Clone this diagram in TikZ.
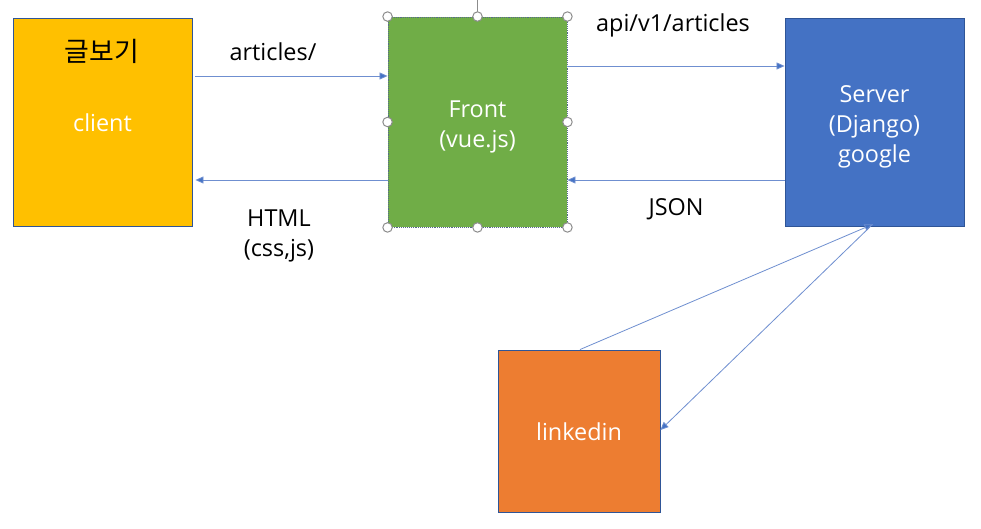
\documentclass[tikz,border=0pt]{standalone}
\usepackage{fontspec}
\setmainfont{Open Sans}
\newfontfamily\krfont{Noto Sans CJK KR}
\usetikzlibrary{arrows.meta}
\definecolor{cyellow}{HTML}{FFC000}
\definecolor{cgreen}{HTML}{70AD47}
\definecolor{cblue}{HTML}{4472C4}
\definecolor{corange}{HTML}{ED7D31}
\definecolor{bordc}{HTML}{2F5597}
\definecolor{linec}{HTML}{6F8FD0}
\begin{document}
\begin{tikzpicture}[x=1bp,y=-1bp,
  box/.style={rectangle, draw=bordc, line width=0.9bp, inner sep=0pt, text=white, align=center,
    font=\fontsize{23.5}{30}\selectfont},
  boxtext/.style={inner sep=0pt, align=center, text=white, font=\fontsize{23.5}{30}\selectfont},
  lbl/.style={inner sep=0pt, align=center, text=black, font=\fontsize{23.5}{30}\selectfont},
  conn/.style={draw=linec, line width=0.8bp, -{Triangle[length=8bp,width=7bp,fill=cblue]}},
  handle/.style={circle, draw=gray!90, fill=white, line width=1bp, minimum size=9.5bp, inner sep=0pt}]
\useasboundingbox (0,0) rectangle (981,529);
\fill[white] (0,0) rectangle (981,529);
% boxes
\node[box, fill=cyellow, minimum width=179bp, minimum height=208bp] (client) at (102.5,122) {};
\node[box, fill=cgreen, draw=gray!50!bordc, densely dotted, minimum width=179bp, minimum height=210bp] (front) at (477.5,122) {};
\node[box, fill=cblue, minimum width=179bp, minimum height=208bp] (server) at (874.5,122) {};
\node[box, fill=corange, minimum width=162bp, minimum height=162bp] (linkedin) at (579,431) {};
\node[boxtext] (clienttxt) at (102.5,123) {client};
\node[boxtext] (fronttxt) at (477.5,127) {Front\\(vue.js)};
\node[boxtext] (servertxt) at (874.5,127) {Server\\(Django)\\google};
\node[boxtext] (linkedintxt) at (579,432) {linkedin};
\node[lbl, font=\krfont\fontsize{27}{30}\selectfont] (title) at (102,51) {글보기};
% selection handles of front
\coordinate (rot) at (front.north |- 0,0);
\draw[gray!90, line width=0.8bp] (front.north) -- (rot);
\foreach \a in {north west,north,north east,east,south east,south,south west,west}
  \node[handle] at (front.\a) {};
% connectors
\draw[conn] ([xshift=3bp]client.east |- 0,76) -- (front.west |- 0,76);
\draw[conn] (front.west |- 0,180) -- ([xshift=3bp]client.east |- 0,180);
\draw[conn] (front.east |- 0,66) -- (server.west |- 0,66);
\draw[conn] (server.west |- 0,180) -- (front.east |- 0,180);
\draw[conn] ([xshift=1bp]linkedin.north) -- ([xshift=-2bp,yshift=2bp]server.south);
\draw[conn] ([xshift=-2bp,yshift=2bp]server.south) -- (linkedin.east |- 0,430);
% labels
\node[lbl] (l1) at (273,52) {articles/};
\node[lbl] (l2) at (279,236) {HTML\\(css,js)};
\node[lbl] (l3) at (673,25) {api/v1/articles};
\node[lbl] (l4) at (676,209) {JSON};
\end{tikzpicture}
\end{document}
